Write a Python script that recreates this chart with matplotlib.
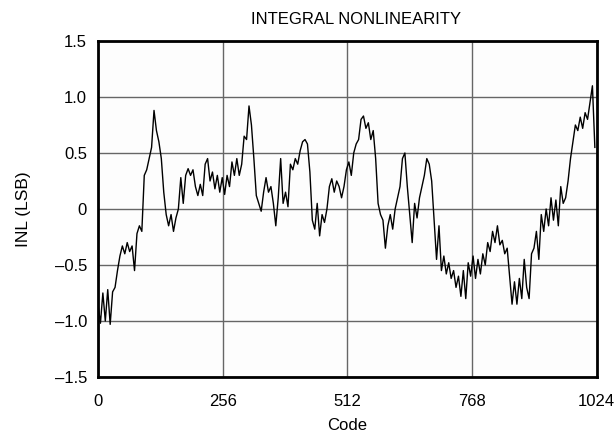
import numpy as np
import matplotlib
matplotlib.use("Agg")
import matplotlib.pyplot as plt

plt.rcParams['font.family'] = ['Liberation Sans', 'DejaVu Sans']

codes = np.arange(0, 1025, 5)
inl = [
    -0.85, -1.02, -0.75, -1.00, -0.72, -1.03, -0.74, -0.70, -0.55, -0.42,
    -0.33, -0.40, -0.30, -0.38, -0.33, -0.55, -0.22, -0.15, -0.20, 0.30,
    0.35, 0.45, 0.55, 0.88, 0.70, 0.60, 0.45, 0.15, -0.05, -0.15,
    -0.05, -0.20, -0.08, 0.00, 0.28, 0.05, 0.30, 0.36, 0.30, 0.35,
    0.20, 0.12, 0.22, 0.12, 0.40, 0.45, 0.25, 0.33, 0.18, 0.30,
    0.15, 0.28, 0.13, 0.30, 0.20, 0.42, 0.30, 0.45, 0.30, 0.40,
    0.65, 0.62, 0.92, 0.75, 0.45, 0.12, 0.05, -0.02, 0.15, 0.28,
    0.15, 0.20, 0.05, -0.15, 0.10, 0.45, 0.05, 0.15, 0.02, 0.40,
    0.35, 0.45, 0.40, 0.52, 0.60, 0.62, 0.58, 0.33, -0.10, -0.18,
    0.05, -0.24, -0.05, -0.12, 0.00, 0.20, 0.27, 0.15, 0.25, 0.20,
    0.10, 0.20, 0.35, 0.42, 0.30, 0.50, 0.58, 0.62, 0.80, 0.83,
    0.72, 0.77, 0.62, 0.70, 0.45, 0.05, -0.05, -0.10, -0.35, -0.15,
    -0.05, -0.18, 0.00, 0.10, 0.20, 0.45, 0.50, 0.20, -0.05, -0.30,
    0.05, -0.08, 0.10, 0.20, 0.30, 0.45, 0.40, 0.25, -0.10, -0.45,
    -0.15, -0.55, -0.42, -0.58, -0.48, -0.62, -0.55, -0.70, -0.60, -0.78,
    -0.55, -0.80, -0.48, -0.60, -0.42, -0.62, -0.45, -0.58, -0.40, -0.50,
    -0.30, -0.38, -0.20, -0.30, -0.15, -0.32, -0.28, -0.40, -0.35, -0.60,
    -0.85, -0.65, -0.85, -0.62, -0.80, -0.45, -0.70, -0.80, -0.40, -0.35,
    -0.20, -0.45, -0.05, -0.20, 0.00, -0.15, 0.10, -0.10, 0.08, -0.15,
    0.20, 0.05, 0.10, 0.25, 0.45, 0.60, 0.75, 0.70, 0.82, 0.72,
    0.86, 0.80, 0.95, 1.10, 0.55,
]
x_ticks = [0, 256, 512, 768, 1024]
x_labels = ['0', '256', '512', '768', '1024']
y_ticks = [-1.5, -1.0, -0.5, 0, 0.5, 1.0, 1.5]
y_labels = ['\u20131.5', '\u20131.0', '\u20130.5', '0', '0.5', '1.0', '1.5']

fig = plt.figure(figsize=(6.14, 4.43), dpi=100)
ax = fig.add_axes([0.1596, 0.1490, 0.8124, 0.7585])
ax.set_facecolor('#fdfdfd')
ax.plot(codes[:len(inl)], inl, color='black', linewidth=1.0)
ax.set_xlim(0, 1024)
ax.set_ylim(-1.5, 1.5)
ax.set_xticks(x_ticks)
ax.set_xticklabels(x_labels)
ax.set_yticks(y_ticks)
ax.set_yticklabels(y_labels)
ax.tick_params(axis='both', length=0, labelsize=12)
ax.tick_params(axis='y', pad=8)
ax.tick_params(axis='x', pad=12)
ax.grid(True, color='#666666', linewidth=1.0)
ax.set_axisbelow(True)
for s in ax.spines.values():
    s.set_linewidth(2)
    s.set_color('black')
ax.set_title('INTEGRAL NONLINEARITY', fontsize=12, pad=12, x=0.518)
ax.set_xlabel('Code', fontsize=12, labelpad=7)
ax.set_ylabel('INL (LSB)', fontsize=12.5, labelpad=17)
fig.savefig('out.png', dpi=100)
